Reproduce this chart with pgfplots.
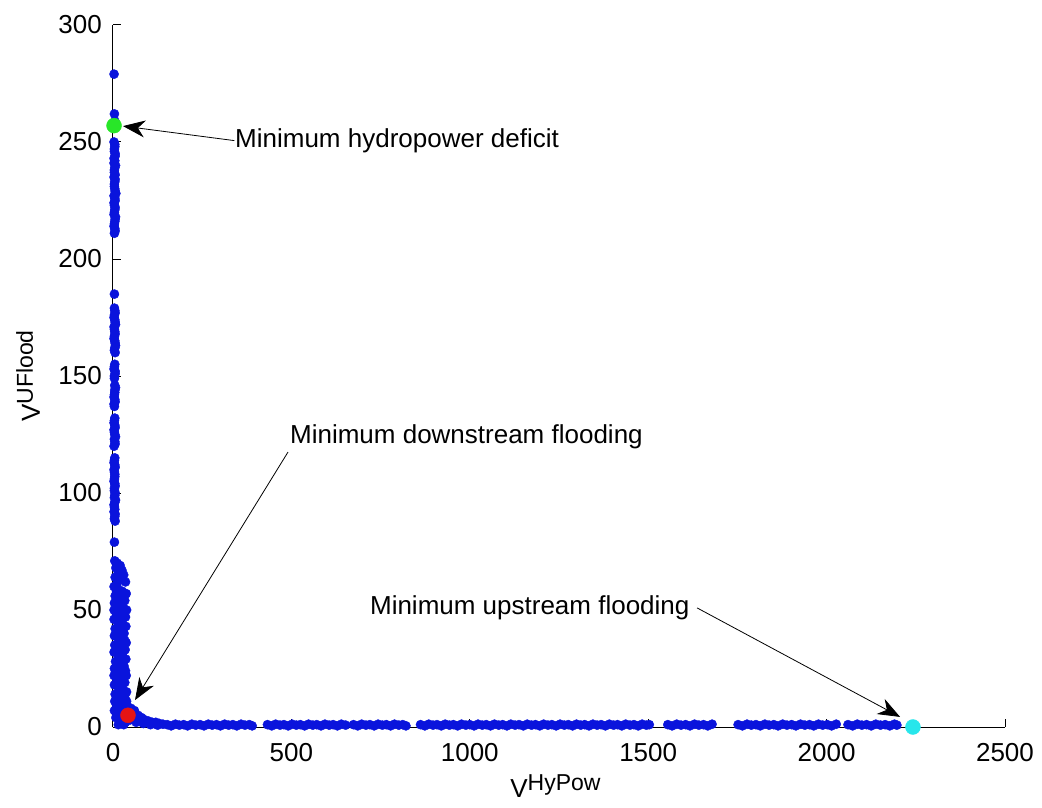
\documentclass[border=0pt]{standalone}
\usepackage{fontspec}
\setmainfont{Liberation Sans}
\usepackage{pgfplots}
\pgfplotsset{compat=1.18}
\usetikzlibrary{arrows.meta}
\definecolor{mblue}{RGB}{10,20,220}
\definecolor{mgreen}{RGB}{40,230,40}
\definecolor{mred}{RGB}{230,20,20}
\definecolor{mcyan}{RGB}{40,230,235}
\newcommand{\bigfont}{\fontsize{26}{31}\selectfont}
\begin{document}
\begin{tikzpicture}
\begin{axis}[
  at={(0,0)}, anchor=south west,
  scale only axis, width=892pt, height=702pt,
  xmin=0, xmax=2500, ymin=0, ymax=300,
  axis lines=left, axis line style={-, line width=1pt, black},
  tick align=inside, major tick length=8pt, tick style={line width=1pt, black},
  xtick={0,500,...,2500}, ytick={0,50,...,300},
  /pgf/number format/1000 sep={},
  /pgf/number format/assume math mode=true,
  tick label style={font=\bigfont, inner sep=0pt},
  xticklabel style={anchor=north, yshift=-16pt},
  yticklabel style={anchor=east, xshift=-11pt},
  xlabel={V\raisebox{7pt}{\fontsize{23}{23}\selectfont HyPow}},
  ylabel={V\raisebox{7pt}{\fontsize{23}{23}\selectfont UFlood}},
  xlabel style={font=\bigfont, inner sep=0pt, at={(axis description cs:0.496,0)}, anchor=north, yshift=-47pt},
  ylabel style={font=\bigfont, inner sep=0pt, at={(axis description cs:0,0.5)}, anchor=south, yshift=73pt},
  clip=false,
]
\addplot[only marks, mark=*, mark size=4.6pt, color=mblue] coordinates {
(3,279)(4,262)(5,259)
(3,250)(5,248)(4,247)(6,245)(3,243)(5,242)(7,240)(4,238)(6,236)(3,235)(5,233)(4,231)(6,229)(8,228)(5,226)(3,224)(6,222)(4,220)(7,218)(5,216)(3,214)(6,212)(4,211)
(5,249)(4,246)(6,244)(3,241)(5,239)(4,237)(6,234)(4,232)(5,230)(3,227)(6,225)(4,223)(5,221)(3,219)(6,217)(4,215)(5,213)
(4,185)
(4,179)(6,177)(3,175)(5,174)(7,172)(4,170)(6,168)(3,166)(5,165)(7,163)(4,161)(6,160)
(5,178)(4,176)(6,173)(3,171)(5,169)(4,167)(6,164)(5,162)
(5,155)(3,153)(6,151)(4,149)(5,146)(7,145)(5,143)(3,141)(6,139)(4,137)
(4,154)(6,152)(4,150)(5,144)(4,142)(5,140)(3,138)
(5,132)(3,130)(6,128)(4,126)(7,124)(5,122)(3,120)
(4,131)(5,129)(3,127)(5,125)(4,123)(6,121)
(5,115)(3,113)(6,111)(4,109)(5,107)(3,105)(6,103)(4,101)(5,99)(7,97)(3,95)(5,93)(6,91)(4,89)
(4,114)(5,112)(3,110)(5,108)(4,106)(5,104)(4,102)(6,100)(4,98)(5,96)(4,94)(3,92)(5,90)(6,88)
(4,79)
(5,71)(12,70)(20,69)(8,68)(25,67)(15,66)(30,65)(6,64)(22,63)(35,62)(10,61)
(3,60)(14,59)(26,58)(37,57)(6,56)(20,55)(33,54)(4,53)(16,52)(29,51)(38,50)(8,49)(22,48)(35,47)(3,46)(13,45)(27,44)(36,43)(6,42)(19,41)(31,40)(4,39)(15,38)(28,37)(37,36)(9,35)(22,34)(34,33)(3,32)(14,31)(26,30)(36,29)(7,28)(19,27)(31,26)(4,25)(15,24)(27,23)(37,22)(9,21)(21,20)(33,19)(4,18)(16,17)(28,16)(38,15)(10,14)(22,13)(34,12)(5,11)(17,10)(29,9)(40,9)(50,8)(12,7)(24,6)(60,7)(70,5)(8,4)(20,3)(35,2)(48,3)(58,4)(80,4)(90,3)(100,2.5)(110,2)(120,2)(130,1.5)(140,1.2)(65,2)(85,1.5)(105,1)(125,0.8)(30,1)(15,1)
(10,58)(32,56)(24,53)(12,50)(30,47)(18,44)(8,40)(24,39)(33,37)(12,34)(28,32)(20,29)(11,26)(24,25)(35,24)(13,22)(28,20)(10,18)(22,16)(34,14)(14,12)(26,11)(38,11)(10,9)(22,8)(44,7)(32,6)(16,5)(52,5)(42,3)(4,7)(6,14)(3,22)(5,35)(3,50)
(152,1)(163,0.5)(175,1.2)(186,0.8)(198,1)(209,0.5)(221,1.2)(232,0.8)(244,1)(255,0.5)(267,1.2)(278,0.8)(290,1)(301,0.5)(313,1.2)(324,0.8)(336,1)(347,0.5)(359,1.2)(370,0.8)(382,1)(390,0.5)
(433,1)(445,0.5)(456,1.2)(468,0.8)(479,1)(491,0.5)(502,1.2)(514,0.8)(525,1)(537,0.5)(548,1.2)(560,0.8)(571,1)(583,0.5)(594,1.2)(606,0.8)(617,1)(629,0.5)(640,1.2)(652,0.8)
(674,1)(686,0.5)(697,1.2)(709,0.8)(720,1)(732,0.5)(743,1.2)(755,0.8)(766,1)(778,0.5)(789,1.2)(801,0.8)(812,1)(821,0.5)
(862,1)(874,0.5)(885,1.2)(897,0.8)(908,1)(920,0.5)(931,1.2)(943,0.8)(954,1)(966,0.5)(977,1.2)(989,0.8)(1000,1)(1012,0.5)(1023,1.2)(1035,0.8)(1046,1)(1058,0.5)(1069,1.2)(1081,0.8)(1092,1)(1104,0.5)(1115,1.2)(1127,0.8)(1138,1)(1150,0.5)(1161,1.2)(1173,0.8)(1184,1)(1196,0.5)(1207,1.2)(1219,0.8)(1230,1)(1242,0.5)(1253,1.2)(1265,0.8)(1276,1)(1288,0.5)(1299,1.2)(1311,0.8)(1322,1)(1334,0.5)(1345,1.2)(1357,0.8)(1368,1)(1380,0.5)(1391,1.2)(1403,0.8)(1414,1)(1426,0.5)(1437,1.2)(1449,0.8)(1460,1)(1472,0.5)(1483,1.2)(1495,0.8)(1503,1)
(1555,1)(1567,0.5)(1580,1.2)(1592,0.8)(1605,1)(1617,0.5)(1630,1.2)(1642,0.8)(1655,1)(1667,0.5)(1679,1.2)
(1752,1)(1764,0.5)(1777,1.2)(1789,0.8)(1802,1)(1814,0.5)(1827,1.2)(1839,0.8)(1852,1)(1864,0.5)(1877,1.2)(1889,0.8)(1902,1)(1914,0.5)(1927,1.2)(1939,0.8)(1952,1)(1964,0.5)(1977,1.2)(1989,0.8)(2002,1)(2014,0.5)(2027,1.2)
(2060,1)(2073,0.5)(2086,1.2)(2099,0.8)(2112,1)(2125,0.5)(2138,1.2)(2151,0.8)(2164,1)(2177,0.5)(2190,1.2)(2197,0.8)
};
\addplot[only marks, mark=*, mark size=7.5pt, color=mgreen] coordinates {(3,257)};
\addplot[only marks, mark=*, mark size=7.5pt, color=mred] coordinates {(42,5)};
\addplot[only marks, mark=*, mark size=7.5pt, color=mcyan] coordinates {(2242,0)};
\node[anchor=west, inner sep=0pt, font=\bigfont] at (axis cs:342,250.4) {Minimum hydropower deficit};
\node[anchor=west, inner sep=0pt, font=\bigfont] at (axis cs:496,124) {Minimum downstream flooding};
\node[anchor=west, inner sep=0pt, font=\bigfont] at (axis cs:720,50.9) {Minimum upstream flooding};
\draw[-{Stealth[length=22pt,width=17pt,inset=7pt]}, line width=0.8pt, black] (axis cs:340,250.6) -- (axis cs:28,256.8);
\draw[-{Stealth[length=22pt,width=17pt,inset=7pt]}, line width=0.8pt, black] (axis cs:490.5,117.5) -- (axis cs:61.7,11.5);
\draw[-{Stealth[length=22pt,width=17pt,inset=7pt]}, line width=0.8pt, black] (axis cs:1637,50.9) -- (axis cs:2206,4.3);
\end{axis}
\pgfresetboundingbox
\path[use as bounding box] (-113pt,-80pt) rectangle (929pt,727pt);
\end{tikzpicture}
\end{document}
